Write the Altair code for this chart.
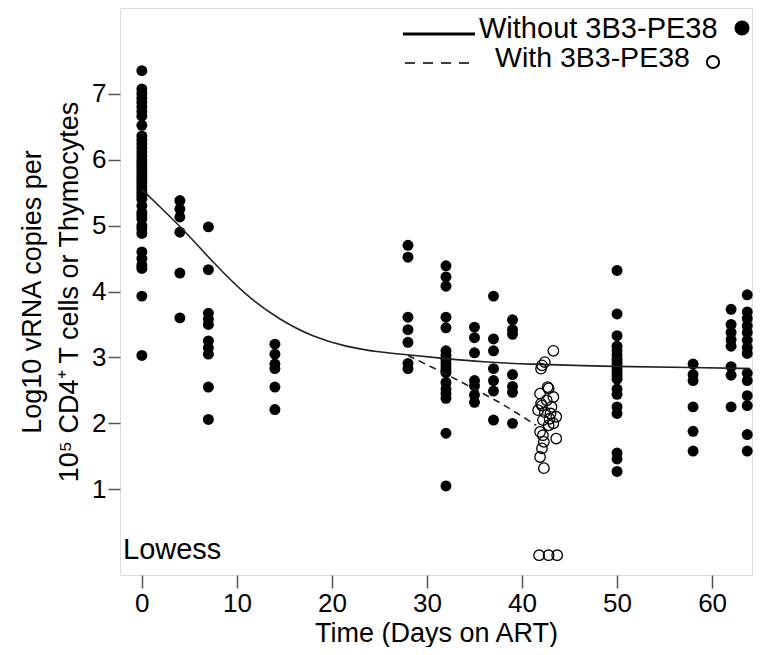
import altair as alt
import pandas as pd

# ---------------- data ----------------
# Without 3B3-PE38 (filled circles): day -> log10 vRNA values
col_days = [0, 4, 7, 14, 28, 32, 35, 37, 39, 50, 58, 62, 63.7]
day0 = [7.35, 7.07, 7.0, 6.93, 6.87, 6.8, 6.73, 6.66, 6.52, 6.36, 6.3, 6.24,
        6.18, 6.12, 6.06, 6.0, 5.95, 5.9, 5.85, 5.8, 5.75, 5.7, 5.65, 5.6,
        5.55, 5.5, 5.45, 5.4, 5.3, 5.2, 5.15, 5.1, 5.0, 4.95, 4.88, 4.6,
        4.5, 4.4, 4.35, 3.93, 3.03]
day4 = [5.38, 5.25, 5.13, 4.9, 4.28, 3.6]
day7 = [4.98, 4.33, 3.67, 3.58, 3.5, 3.25, 3.15, 3.05, 2.55, 2.06]
day14 = [3.2, 3.05, 2.9, 2.83, 2.55, 2.21]
day28 = [4.7, 4.52, 3.61, 3.42, 3.23, 2.91, 2.83]
day32 = [4.39, 4.22, 4.08, 3.61, 3.45, 3.1, 3.03, 2.97, 2.92, 2.87, 2.82,
         2.77, 2.62, 2.52, 2.45, 2.38, 1.85, 1.05]
day35 = [3.46, 3.3, 3.07, 2.65, 2.57, 2.43, 2.32]
day37 = [3.93, 3.28, 3.1, 2.83, 2.65, 2.49, 2.05]
day39 = [3.57, 3.42, 3.35, 2.74, 2.56, 2.47, 2.0]
day50 = [4.32, 3.66, 3.33, 3.17, 3.1, 3.03, 2.97, 2.92, 2.87, 2.82, 2.77,
         2.72, 2.67, 2.52, 2.44, 2.25, 2.15, 1.55, 1.46, 1.27]
day58 = [2.9, 2.74, 2.65, 2.25, 1.88, 1.58]
day62 = [3.73, 3.5, 3.38, 3.27, 3.17, 2.86, 2.73, 2.25]
day64 = [3.95, 3.69, 3.59, 3.48, 3.38, 3.26, 3.15, 3.06, 2.76, 2.65, 2.42,
         2.27, 1.83, 1.58]
col_values = [day0, day4, day7, day14, day28, day32, day35, day37, day39,
              day50, day58, day62, day64]

# With 3B3-PE38 (open circles)
with_days = [43.3, 42.4, 42.1, 42.0, 42.7, 42.8, 41.9, 43.3, 42.6, 42.1,
             43.1, 41.7, 42.4, 43.6, 42.9, 42.2, 43.3, 42.8, 41.9, 42.2,
             43.6, 42.3, 42.1, 41.9, 42.3, 42.0, 43.0, 41.8, 42.8, 43.7]
with_vals = [3.1, 2.93, 2.88, 2.83, 2.55, 2.53, 2.45, 2.4, 2.35, 2.27,
             2.25, 2.2, 2.17, 2.1, 2.07, 2.05, 2.0, 1.97, 1.87, 1.82,
             1.77, 1.72, 1.62, 1.49, 1.32, 2.3, 2.15, 0.0, 0.0, 0.0]

# Lowess curves
lw_without_day = [0, 2, 4.5, 7.5, 11, 14.5, 18, 21.5, 25, 28, 32, 36, 40, 50, 58, 64]
lw_without_val = [5.55, 5.27, 4.92, 4.44, 3.93, 3.57, 3.31, 3.16, 3.08, 3.04,
                  2.98, 2.93, 2.9, 2.86, 2.85, 2.83]
lw_with_day = [28, 32, 35, 37, 39, 41.5]
lw_with_val = [3.03, 2.75, 2.52, 2.37, 2.2, 1.97]

x_ticks = [0, 10, 20, 30, 40, 50, 60]
y_ticks = [1, 2, 3, 4, 5, 6, 7]

# ---------------- tables ----------------
rows = []
for d, vs in zip(col_days, col_values):
    for v in vs:
        rows.append({"day": d, "val": v})
df_without = pd.DataFrame(rows)
df_with = pd.DataFrame({"day": with_days, "val": with_vals})
df_lw1 = pd.DataFrame({"day": lw_without_day, "val": lw_without_val})
df_lw2 = pd.DataFrame({"day": lw_with_day, "val": lw_with_val})

FONT = "Liberation Sans"
xs = alt.Scale(domain=[-2.3, 64.2], nice=False, zero=False)
ys = alt.Scale(domain=[-0.3, 8.3], nice=False, zero=False)

X = alt.X("day:Q", scale=xs,
          axis=alt.Axis(values=x_ticks, format="d", title="Time (Days on ART)", grid=False,
                        domain=False, tickSize=13, tickWidth=1.5, tickColor="#555",
                        labelFontSize=26, labelFont=FONT, labelColor="black",
                        labelPadding=2, titleFontSize=27, titleFont=FONT,
                        titleFontWeight="normal", titleColor="black",
                        titlePadding=4))
Y = alt.Y("val:Q", scale=ys,
          axis=alt.Axis(values=y_ticks, format="d", grid=False, domain=False,
                        title=["Log10 vRNA copies per",
                               "10\u2075 CD4\u207a T cells or Thymocytes"],
                        tickSize=12, tickWidth=1.5, tickColor="#555",
                        labelFontSize=26, labelFont=FONT, labelColor="black",
                        labelPadding=2, titleFontSize=27, titleFont=FONT,
                        titleFontWeight="normal", titleColor="black",
                        titleLineHeight=37, titlePadding=8))

filled = alt.Chart(df_without).mark_circle(color="black", opacity=1, size=120).encode(x=X, y=Y)
opened = alt.Chart(df_with).mark_point(shape="circle", color="black", filled=False,
                                       size=110, strokeWidth=1.3, opacity=1).encode(x="day:Q", y="val:Q")
line1 = alt.Chart(df_lw1).mark_line(color="#222", strokeWidth=1.6,
                                    interpolate="basis").encode(x="day:Q", y="val:Q")
line2 = alt.Chart(df_lw2).mark_line(color="#222", strokeWidth=1.6, strokeDash=[7, 5],
                                    interpolate="basis").encode(x="day:Q", y="val:Q")

lowess_txt = alt.Chart(pd.DataFrame({"t": ["Lowess"]})).mark_text(
    align="left", baseline="alphabetic", font=FONT, fontSize=29, color="black"
).encode(x=alt.value(3), y=alt.value(551), text="t:N")

# legend (manual, top right)
leg_rule1 = alt.Chart(pd.DataFrame({"a": [0]})).mark_rule(color="black", strokeWidth=3).encode(
    x=alt.value(283), x2=alt.value(355), y=alt.value(26))
leg_rule2 = alt.Chart(pd.DataFrame({"a": [0]})).mark_rule(color="black", strokeWidth=1.5,
                                                          strokeDash=[10, 8]).encode(
    x=alt.value(285), x2=alt.value(352), y=alt.value(55))
leg_t1 = alt.Chart(pd.DataFrame({"t": ["Without 3B3-PE38"]})).mark_text(
    align="left", baseline="alphabetic", font=FONT, fontSize=29, color="black"
).encode(x=alt.value(359), y=alt.value(30), text="t:N")
leg_t2 = alt.Chart(pd.DataFrame({"t": ["With 3B3-PE38"]})).mark_text(
    align="left", baseline="alphabetic", font=FONT, fontSize=28.5, color="black"
).encode(x=alt.value(375), y=alt.value(59), text="t:N")
leg_c1 = alt.Chart(pd.DataFrame({"a": [0]})).mark_point(
    shape="circle", filled=True, color="black", size=230, opacity=1
).encode(x=alt.value(622), y=alt.value(20))
leg_c2 = alt.Chart(pd.DataFrame({"a": [0]})).mark_point(
    shape="circle", filled=False, color="black", size=150, strokeWidth=2, opacity=1
).encode(x=alt.value(593), y=alt.value(54))

chart = alt.layer(filled, opened, line1, line2, lowess_txt,
                  leg_rule1, leg_rule2, leg_t1, leg_t2, leg_c1, leg_c2).properties(
    width=632, height=567,
    autosize=alt.AutoSizeParams(type="none"),
    padding={"left": 112, "top": 0, "right": 6, "bottom": 72},
).configure_view(stroke="#555", strokeWidth=2).configure(background="white")

chart.save("out.html", embed_options={"renderer": "svg", "actions": False})
